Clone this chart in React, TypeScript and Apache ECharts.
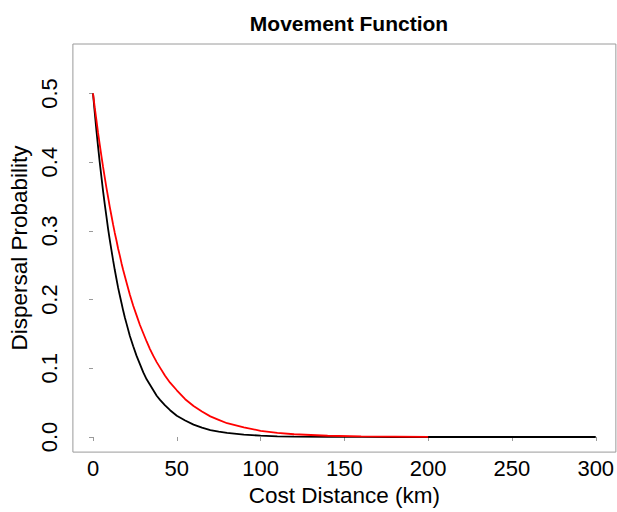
import React, { useEffect, useRef } from "react";
import * as echarts from "echarts";

const titleText = "Movement Function";
const xAxisTitle = "Cost Distance (km)";
const yAxisTitle = "Dispersal Probability";

const xTicks = [0, 50, 100, 150, 200, 250, 300];
const yTicks = [0, 0.1, 0.2, 0.3, 0.4, 0.5];

// black curve: cost distance (km) vs dispersal probability
const blackDistances = [0, 1, 2, 3, 4, 5, 6, 7, 8, 9, 10, 11, 12, 13, 14, 15, 16, 17, 18, 19, 20, 22, 24, 26, 28, 30, 32, 34, 36, 38, 40, 43, 46, 50, 55, 60, 65, 70, 75, 80, 90, 100, 110, 120, 140, 160, 180, 200, 250, 300];
const blackValues = [0.5, 0.473, 0.447, 0.423, 0.4, 0.379, 0.358, 0.339, 0.321, 0.303, 0.287, 0.272, 0.257, 0.243, 0.23, 0.217, 0.206, 0.195, 0.184, 0.174, 0.165, 0.147, 0.132, 0.118, 0.106, 0.094, 0.084, 0.076, 0.068, 0.06, 0.054, 0.046, 0.039, 0.031, 0.024, 0.018, 0.0135, 0.01, 0.0078, 0.006, 0.0034, 0.002, 0.001, 0.0006, 0.0002, 0.0001, 0, 0, 0, 0];

// red curve
const redDistances = [0, 1, 2, 3, 4, 5, 6, 7, 8, 9, 10, 11, 12, 13, 14, 15, 16, 17, 18, 19, 20, 22, 24, 26, 28, 30, 32, 34, 36, 38, 40, 43, 46, 50, 55, 60, 65, 70, 75, 80, 90, 100, 110, 120, 140, 160, 180, 200];
const redValues = [0.5, 0.48, 0.462, 0.443, 0.426, 0.409, 0.393, 0.378, 0.363, 0.349, 0.335, 0.322, 0.309, 0.297, 0.286, 0.274, 0.264, 0.253, 0.243, 0.234, 0.225, 0.207, 0.191, 0.177, 0.163, 0.151, 0.139, 0.128, 0.118, 0.109, 0.101, 0.089, 0.079, 0.068, 0.055, 0.045, 0.037, 0.03, 0.025, 0.02, 0.014, 0.009, 0.006, 0.004, 0.0018, 0.0008, 0.0004, 0.0002];

const FONT = "Liberation Sans, Arial, sans-serif";
const GRAY = "#9a9a9a";

export default function App() {
  const ref = useRef<HTMLDivElement>(null);

  useEffect(() => {
    document.body.style.margin = "0";
    if (!ref.current) return;
    const chart = echarts.init(ref.current, null, { renderer: "svg" });
    const blackData = blackDistances.map((d, i) => [d, blackValues[i]]);
    const redData = redDistances.map((d, i) => [d, redValues[i]]);
    chart.setOption({
      animation: false,
      backgroundColor: "#ffffff",
      title: {
        text: titleText,
        left: 344,
        textAlign: "center",
        top: 8,
        textStyle: { fontFamily: FONT, fontSize: 21, fontWeight: "bold", color: "#000" },
      },
      grid: {
        left: 70,
        top: 44,
        width: 548,
        height: 419,
        show: true,
        borderColor: GRAY,
        borderWidth: 1,
        backgroundColor: "transparent",
      },
      xAxis: {
        type: "value",
        min: -12,
        max: 312,
        name: xAxisTitle,
        nameLocation: "middle",
        nameGap: 23,
        nameTextStyle: { fontFamily: FONT, fontSize: 22.5, color: "#000" },
        axisLine: { show: false },
        splitLine: { show: false },
        axisTick: { show: true, inside: false, length: 4, lineStyle: { color: GRAY }, customValues: xTicks },
        axisLabel: {
          customValues: xTicks,
          margin: 5,
          fontFamily: FONT,
          fontSize: 22,
          color: "#000",
          formatter: (v: number) => String(v),
        },
      },
      yAxis: {
        type: "value",
        min: -0.022,
        max: 0.572,
        name: yAxisTitle,
        nameLocation: "middle",
        nameGap: 28,
        nameTextStyle: { fontFamily: FONT, fontSize: 22.5, color: "#000" },
        axisLine: { show: false },
        splitLine: { show: false },
        axisTick: { show: true, inside: false, length: 4, lineStyle: { color: GRAY }, customValues: yTicks },
        axisLabel: {
          customValues: yTicks,
          rotate: 90,
          margin: 12,
          fontFamily: FONT,
          fontSize: 22,
          color: "#000",
          formatter: (v: number) => v.toFixed(1),
        },
      },
      series: [
        {
          type: "line",
          data: blackData,
          showSymbol: false,
          smooth: false,
          lineStyle: { color: "#000000", width: 1.8 },
          z: 2,
        },
        {
          type: "line",
          data: redData,
          showSymbol: false,
          smooth: false,
          lineStyle: { color: "#ff0000", width: 1.8 },
          z: 3,
        },
      ],
    });
    return () => chart.dispose();
  }, []);

  return <div ref={ref} style={{ width: 617, height: 512 }} />;
}
